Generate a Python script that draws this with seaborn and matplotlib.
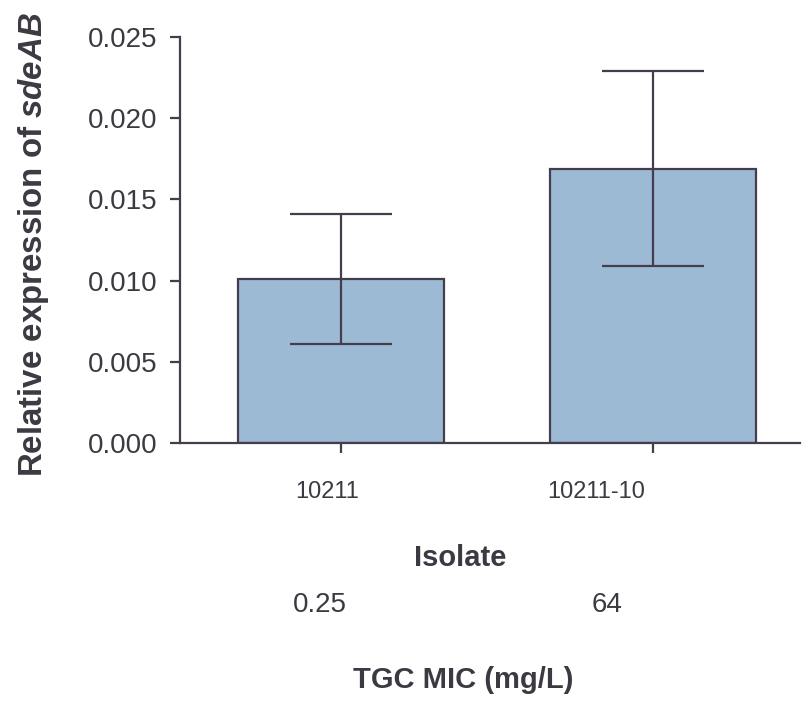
import matplotlib
matplotlib.use("Agg")
import matplotlib.pyplot as plt
import seaborn as sns
import pandas as pd

# Relative expression data per isolate
isolates = ["10211", "10211-10"]
mic_values = ["0.25", "64"]
expression = [0.0101, 0.0169]
expression_err = [0.0040, 0.0060]
y_ticks = [0.000, 0.005, 0.010, 0.015, 0.020, 0.025]

sns.set_theme(style="ticks")
plt.rcParams["font.family"] = ["Liberation Sans", "DejaVu Sans"]
plt.rcParams["mathtext.fontset"] = "custom"
plt.rcParams["mathtext.it"] = "Liberation Sans:italic:bold"
plt.rcParams["mathtext.rm"] = "Liberation Sans:bold"

ink = "#3d3942"
edge = "#463d4c"
bar_fill = "#9dbad4"

df = pd.DataFrame({"Isolate": isolates, "Expression": expression})

fig = plt.figure(figsize=(8.02, 7.03), dpi=100)
ax = fig.add_axes([0.2244, 0.3698, 0.7731, 0.5776])

sns.barplot(data=df, x="Isolate", y="Expression", color=bar_fill,
            width=0.66, edgecolor=edge, linewidth=1.6, saturation=1,
            errorbar=None, ax=ax)
ax.errorbar(range(len(isolates)), expression, yerr=expression_err,
            fmt="none", ecolor=edge, elinewidth=1.6, capsize=37,
            capthick=1.6, zorder=5)

ax.set_xlim(-0.516, 1.471)
ax.set_ylim(0, 0.025)
ax.set_yticks(y_ticks)
ax.set_yticklabels([f"{v:.3f}" for v in y_ticks])
ax.set_xticks(range(len(isolates)))
ax.set_xticklabels([])
ax.set_xlabel("")
ax.set_ylabel("")

for side in ["top", "right"]:
    ax.spines[side].set_visible(False)
for side in ["left", "bottom"]:
    ax.spines[side].set_color(edge)
    ax.spines[side].set_linewidth(1.6)

ax.tick_params(axis="y", length=7, width=1.6, color=edge,
               labelsize=20, labelcolor=ink, pad=9)
ax.tick_params(axis="x", length=7, width=1.6, color=edge)

tr = ax.get_xaxis_transform()
# isolate names below the ticks
for xpos, name in zip([-0.045, 0.817], isolates):
    ax.text(xpos, -0.12, name, transform=tr, ha="center", va="center",
            fontsize=17, color=ink)
ax.text(0.381, -0.283, "Isolate", transform=tr, ha="center", va="center",
        fontsize=21, fontweight="bold", color=ink)
# MIC values for each isolate
for xpos, mic in zip([-0.067, 0.853], mic_values):
    ax.text(xpos, -0.399, mic, transform=tr, ha="center", va="center",
            fontsize=20, color=ink)
ax.text(0.391, -0.584, "TGC MIC (mg/L)", transform=tr, ha="center",
        va="center", fontsize=21, fontweight="bold", color=ink)

fig.text(34 / 802, 1 - 245 / 703, r"Relative expression of $\mathit{sdeAB}$",
         rotation=90, ha="center", va="center", fontsize=23.8,
         fontweight="bold", color=ink)

fig.savefig("out.png", dpi=100, facecolor="white")
